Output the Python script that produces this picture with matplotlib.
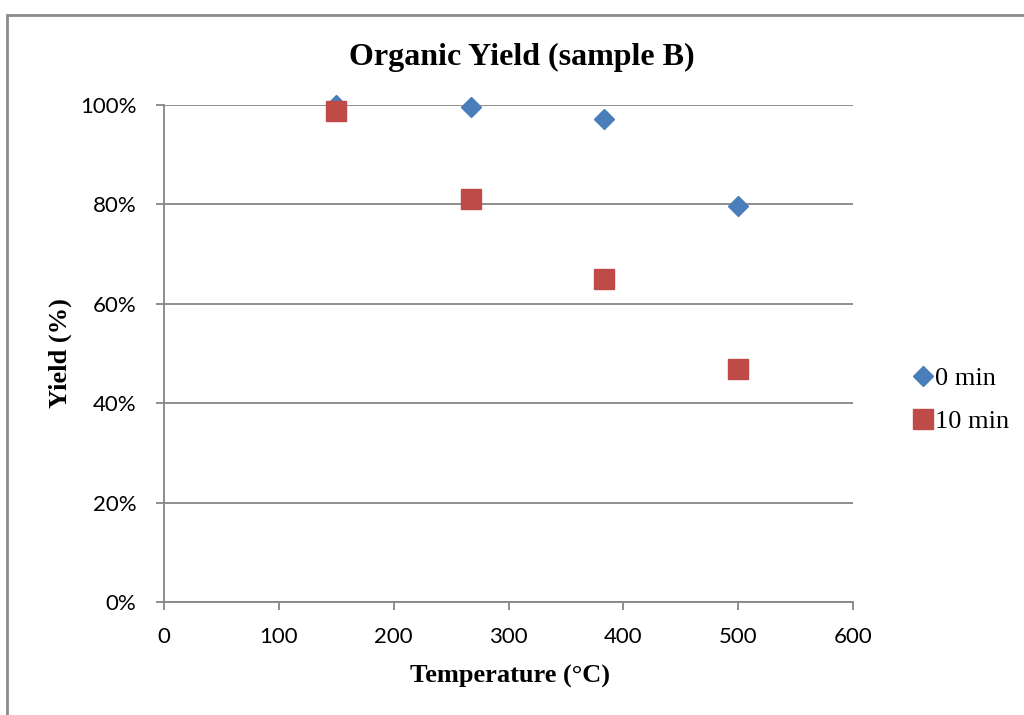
import matplotlib
matplotlib.use("Agg")
import matplotlib.pyplot as plt
from matplotlib.patches import Rectangle
from matplotlib.ticker import FuncFormatter, MultipleLocator

temperature = [150, 267, 383, 500]
yield_0min = [100.0, 99.6, 97.2, 79.7]
yield_10min = [98.8, 81.1, 65.0, 46.9]
series_labels = ["0 min", "10 min"]

blue = "#4A7EBB"
red = "#BE4B48"
grid_gray = "#868686"

fig = plt.figure(figsize=(10.24, 7.15), dpi=100)
ax = fig.add_axes([164 / 1024, 1 - 602 / 715, (853 - 164) / 1024, (602 - 105) / 715])

# chart-area border
fig.patches.append(Rectangle((7 / 1024, -0.05), 1.2, 1 - 15 / 715 + 0.05,
                             transform=fig.transFigure, fill=False,
                             edgecolor="#8C8C8C", linewidth=2))

ax.plot(temperature, yield_0min, linestyle="none", marker="D", markersize=10.5,
        color=blue, label=series_labels[0], zorder=3, clip_on=False)
ax.plot(temperature, yield_10min, linestyle="none", marker="s", markersize=14,
        color=red, label=series_labels[1], zorder=4, clip_on=False)

ax.set_xlim(0, 600)
ax.set_ylim(0, 100)
ax.xaxis.set_major_locator(MultipleLocator(100))
ax.yaxis.set_major_locator(MultipleLocator(20))
ax.yaxis.set_major_formatter(FuncFormatter(lambda v, p: f"{v:.0f}%"))

ax.grid(axis="y", color=grid_gray, linewidth=1.3)
ax.set_axisbelow(True)
for side in ["top", "right"]:
    ax.spines[side].set_visible(False)
for side in ["left", "bottom"]:
    ax.spines[side].set_color(grid_gray)
    ax.spines[side].set_linewidth(1.3)

tick_font = "Lato"
ax.tick_params(axis="both", direction="out", length=6, width=1.3, color=grid_gray,
               labelsize=16, labelcolor="black")
ax.tick_params(axis="x", pad=12)
ax.tick_params(axis="y", pad=14)
for lbl in ax.get_xticklabels() + ax.get_yticklabels():
    lbl.set_fontfamily(tick_font)

serif = "Liberation Serif"
fig.text(522 / 1024, 1 - 57 / 715, "Organic Yield (sample B)", ha="center", va="center",
         fontfamily=serif, fontweight="bold", fontsize=23)
fig.text(510 / 1024, 1 - 676 / 715, "Temperature (°C)", ha="center", va="center",
         fontfamily=serif, fontweight="bold", fontsize=19)
fig.text(60 / 1024, 1 - 353 / 715, "Yield (%)", ha="center", va="center", rotation=90,
         fontfamily=serif, fontweight="bold", fontsize=19)

fig.legend(loc="center left", bbox_to_anchor=(890 / 1024, 1 - 400 / 715),
           frameon=False, prop={"family": serif, "size": 19},
           handlelength=0.7, handletextpad=0.1, labelspacing=0.75, markerscale=1.0)

fig.savefig("out.png", dpi=100)
